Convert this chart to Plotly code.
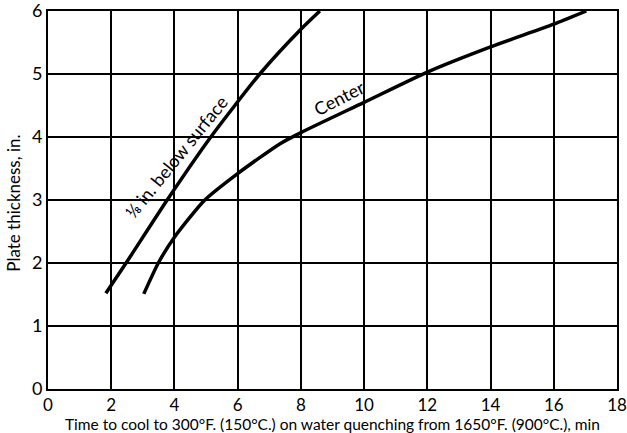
import plotly.graph_objects as go

# Data
surface_x = [1.83, 2.47, 3.77, 5.15, 6.7, 8.0, 8.6]
surface_y = [1.52, 2.0, 3.0, 4.0, 5.0, 5.71, 6.0]

center_x = [3.03, 3.49, 4.0, 4.96, 6.0, 7.33, 8.0, 10.0, 12.0, 14.0, 16.0, 17.03]
center_y = [1.51, 2.0, 2.41, 3.0, 3.42, 3.89, 4.07, 4.55, 5.03, 5.43, 5.79, 6.0]

x_ticks = [0, 2, 4, 6, 8, 10, 12, 14, 16, 18]
y_ticks = [0, 1, 2, 3, 4, 5, 6]

x_title = "Time to cool to 300°F. (150°C.) on water quenching from 1650°F. (900°C.), min"
y_title = "Plate thickness, in."

FONT = "Lato"

fig = go.Figure()
fig.add_trace(go.Scatter(x=surface_x, y=surface_y, mode="lines",
                         line=dict(color="black", width=3.5, shape="spline", smoothing=0.6),
                         showlegend=False))
fig.add_trace(go.Scatter(x=center_x, y=center_y, mode="lines",
                         line=dict(color="black", width=3.5, shape="spline", smoothing=0.6),
                         showlegend=False))

fig.add_annotation(x=4.05, y=3.68, text="⅛ in. below surface", showarrow=False,
                   textangle=-51, font=dict(family=FONT, size=18, color="black"),
                   xref="x", yref="y")
fig.add_annotation(x=9.2, y=4.62, text="Center", showarrow=False,
                   textangle=-27, font=dict(family=FONT, size=18, color="black"),
                   xref="x", yref="y")

# axis titles placed as annotations for precise positioning
fig.add_annotation(x=0.5, y=0, xref="paper", yref="paper", text=x_title,
                   showarrow=False, yanchor="middle", yshift=-35,
                   font=dict(family=FONT, size=15.5, color="black"))
fig.add_annotation(x=0, y=0.49, xref="paper", yref="paper", text=y_title,
                   showarrow=False, xanchor="center", textangle=-90, xshift=-34,
                   font=dict(family=FONT, size=17, color="black"))

fig.update_xaxes(range=[0, 18], tickvals=x_ticks, ticktext=[str(v) for v in x_ticks],
                 showgrid=True, gridcolor="black", gridwidth=1.8,
                 showline=True, linecolor="black", linewidth=2, mirror=True,
                 zeroline=False, ticks="", ticklen=0, automargin=False,
                 ticklabeloverflow="allow",
                 tickfont=dict(family=FONT, size=17, color="black"))
fig.update_yaxes(range=[0, 6], tickvals=y_ticks, ticktext=[str(v) for v in y_ticks],
                 showgrid=True, gridcolor="black", gridwidth=1.8,
                 showline=True, linecolor="black", linewidth=2, mirror=True,
                 zeroline=False, ticks="", ticklen=0, automargin=False,
                 ticklabeloverflow="allow",
                 tickfont=dict(family=FONT, size=18, color="black"))

fig.update_layout(width=627, height=433,
                  margin=dict(l=48, r=10, t=11, b=44),
                  paper_bgcolor="white", plot_bgcolor="white")

fig.write_html("out.html", config={"displayModeBar": False},
               post_script="document.body.style.margin='0';")
